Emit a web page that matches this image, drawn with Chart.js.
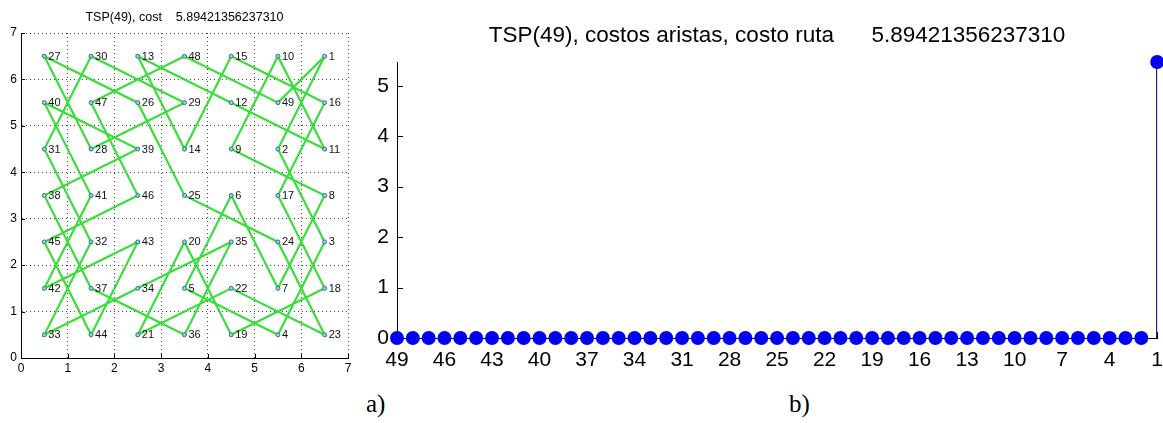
<!DOCTYPE html>
<html>
<head>
<meta charset="utf-8">
<script src="https://cdn.jsdelivr.net/npm/chart.js@4"></script>
<style>
  body { margin: 0; background: #fff; }
  #wrap { position: relative; width: 1163px; height: 423px; overflow: hidden; background: #fff; }
  canvas { position: absolute; top: 0; }
  .tag { position: absolute; font-family: "Liberation Serif", "DejaVu Serif", serif; font-size: 25px; color: #000; }
</style>
</head>
<body>
<div id="wrap">
  <canvas id="tour" width="360" height="385" style="left:0"></canvas>
  <canvas id="costs" width="813" height="385" style="left:360px"></canvas>
  <div class="tag" style="left:366px; top:390px">a)</div>
  <div class="tag" style="left:789px; top:390px">b)</div>
</div>
<script>
// coordenadas de los nodos 1..49
const nodeX = [6.5, 5.5, 6.5, 5.5, 3.5, 4.5, 5.5, 6.5, 4.5, 5.5,
               6.5, 4.5, 2.5, 3.5, 4.5, 6.5, 5.5, 6.5, 4.5, 3.5,
               2.5, 4.5, 6.5, 5.5, 3.5, 2.5, 0.5, 1.5, 3.5, 1.5,
               0.5, 1.5, 0.5, 2.5, 4.5, 3.5, 1.5, 0.5, 2.5, 0.5,
               1.5, 0.5, 2.5, 1.5, 0.5, 2.5, 1.5, 3.5, 5.5];
const nodeY = [6.5, 4.5, 2.5, 0.5, 1.5, 3.5, 1.5, 3.5, 4.5, 6.5,
               4.5, 5.5, 6.5, 4.5, 6.5, 5.5, 3.5, 1.5, 0.5, 2.5,
               0.5, 1.5, 0.5, 2.5, 3.5, 5.5, 6.5, 4.5, 5.5, 6.5,
               4.5, 2.5, 0.5, 1.5, 2.5, 0.5, 1.5, 3.5, 4.5, 5.5,
               3.5, 1.5, 2.5, 0.5, 2.5, 3.5, 5.5, 6.5, 5.5];

// orden de visita de la ruta (cerrada)
const route = [1, 2, 3, 4, 5, 6, 7, 8, 9, 10, 11, 12, 13, 14, 15, 16, 17, 18, 19, 20,
               21, 22, 23, 24, 25, 26, 27, 28, 29, 30, 31, 32, 33, 34, 35, 36, 37, 38, 39, 40,
               41, 42, 43, 44, 45, 46, 47, 48, 49, 1];

const gridTicks = [0, 1, 2, 3, 4, 5, 6, 7];

// costos de las aristas
const edgeIndex = [1, 2, 3, 4, 5, 6, 7, 8, 9, 10, 11, 12, 13, 14, 15, 16, 17, 18, 19, 20,
                   21, 22, 23, 24, 25, 26, 27, 28, 29, 30, 31, 32, 33, 34, 35, 36, 37, 38, 39, 40,
                   41, 42, 43, 44, 45, 46, 47, 48, 49];
const edgeCost = [5.47, 0, 0, 0, 0, 0, 0, 0, 0, 0, 0, 0, 0, 0, 0, 0, 0, 0, 0, 0,
                  0, 0, 0, 0, 0, 0, 0, 0, 0, 0, 0, 0, 0, 0, 0, 0, 0, 0, 0, 0,
                  0, 0, 0, 0, 0, 0, 0, 0, 0];
const costXTicks = [49, 46, 43, 40, 37, 34, 31, 28, 25, 22, 19, 16, 13, 10, 7, 4, 1];
const costYTicks = [0, 1, 2, 3, 4, 5];

const tourCost = '5.89421356237310';
const FONT = '"Liberation Sans", Arial, sans-serif';

// marcas de eje hacia adentro (estilo matlab)
const inwardTicks = {
    id: 'inwardTicks',
    beforeDatasetsDraw(chart, args, opts) {
        const { ctx, chartArea: a, scales: { x, y } } = chart;
        ctx.save();
        ctx.strokeStyle = '#000';
        ctx.lineWidth = 1;
        ctx.beginPath();
        x.ticks.forEach(t => {
            const px = Math.round(x.getPixelForValue(t.value)) + 0.5;
            ctx.moveTo(px, a.bottom);
            ctx.lineTo(px, a.bottom - opts.len);
        });
        y.ticks.forEach(t => {
            const py = Math.round(y.getPixelForValue(t.value)) + 0.5;
            ctx.moveTo(a.left, py);
            ctx.lineTo(a.left + opts.len, py);
        });
        ctx.stroke();
        ctx.restore();
    }
};

// numero de cada nodo al lado del punto
const nodeLabels = {
    id: 'nodeLabels',
    afterDatasetsDraw(chart) {
        const { ctx } = chart;
        const meta = chart.getDatasetMeta(1);
        ctx.save();
        ctx.font = '11px ' + FONT;
        ctx.fillStyle = '#111';
        ctx.textBaseline = 'middle';
        meta.data.forEach((pt, i) => {
            ctx.fillText(String(i + 1), pt.x + 4, pt.y + 0.5);
        });
        ctx.restore();
    }
};

function fixWidth(w) { return scale => { scale.width = w; }; }
function fixHeight(h) { return scale => { scale.height = h; }; }

// a) grafico de la ruta
new Chart(document.getElementById('tour'), {
    type: 'scatter',
    data: {
        datasets: [{
            data: route.map(n => ({ x: nodeX[n - 1], y: nodeY[n - 1] })),
            showLine: true,
            borderColor: '#3ade3a',
            borderWidth: 2.2,
            pointRadius: 0,
            order: 2
        }, {
            data: nodeX.map((x, i) => ({ x: x, y: nodeY[i] })),
            pointRadius: 2,
            borderWidth: 1,
            borderColor: '#2a6d8c',
            backgroundColor: '#9fd0df',
            order: 1
        }]
    },
    options: {
        responsive: false,
        animation: false,
        layout: { padding: { right: 12 } },
        plugins: {
            legend: { display: false },
            tooltip: { enabled: false },
            title: {
                display: true,
                fullSize: false,
                text: 'TSP(49), cost    ' + tourCost,
                color: '#000',
                font: { family: FONT, size: 12.5, weight: 'normal', lineHeight: 1.2 },
                padding: { top: 10.5, bottom: 7.5 }
            },
            inwardTicks: { len: 4 }
        },
        scales: {
            x: {
                type: 'linear', min: 0, max: 7,
                afterBuildTicks: s => { s.ticks = gridTicks.map(v => ({ value: v })); },
                afterFit: fixHeight(27),
                grid: { color: '#444', lineWidth: 1, drawTicks: false },
                border: { color: '#000', width: 1, dash: [1, 3] },
                ticks: { color: '#000', padding: 3, font: { family: FONT, size: 12 } }
            },
            y: {
                type: 'linear', min: 0, max: 7,
                afterBuildTicks: s => { s.ticks = gridTicks.map(v => ({ value: v })); },
                afterFit: fixWidth(21),
                grid: { color: '#444', lineWidth: 1, drawTicks: false },
                border: { color: '#000', width: 1, dash: [1, 3] },
                ticks: { color: '#000', padding: 4, font: { family: FONT, size: 12 } }
            }
        }
    },
    plugins: [inwardTicks, nodeLabels]
});

// b) costos de las aristas (tallos)
new Chart(document.getElementById('costs'), {
    type: 'bar',
    data: {
        datasets: [{
            type: 'bar',
            data: edgeIndex.map((x, i) => ({ x: x, y: edgeCost[i] })),
            backgroundColor: '#12127a',
            barThickness: 1.5,
            order: 2
        }, {
            type: 'scatter',
            data: edgeIndex.map((x, i) => ({ x: x, y: edgeCost[i] })),
            pointRadius: 7,
            borderWidth: 0,
            backgroundColor: '#0000f2',
            clip: false,
            order: 1
        }]
    },
    options: {
        responsive: false,
        animation: false,
        layout: { padding: { right: 6 } },
        plugins: {
            legend: { display: false },
            tooltip: { enabled: false },
            title: {
                display: true,
                fullSize: false,
                text: 'TSP(49), costos aristas, costo ruta      ' + tourCost,
                color: '#000',
                font: { family: FONT, size: 22.5, weight: 'normal', lineHeight: 1.2 },
                padding: { top: 22, bottom: 13 }
            },
            inwardTicks: { len: 6 }
        },
        scales: {
            x: {
                type: 'linear', min: 1, max: 49, reverse: true, offset: false,
                afterBuildTicks: s => { s.ticks = costXTicks.map(v => ({ value: v })); },
                afterFit: fixHeight(47),
                grid: { display: false, drawTicks: false },
                border: { color: '#000', width: 1 },
                ticks: { color: '#000', padding: 10, font: { family: FONT, size: 21 } }
            },
            y: {
                type: 'linear', min: 0, max: 5.47,
                afterBuildTicks: s => { s.ticks = costYTicks.map(v => ({ value: v })); },
                afterFit: fixWidth(37),
                grid: { display: false, drawTicks: false },
                border: { color: '#000', width: 1 },
                ticks: { color: '#000', padding: 8, font: { family: FONT, size: 21 } }
            }
        }
    },
    plugins: [inwardTicks]
});
</script>
</body>
</html>
